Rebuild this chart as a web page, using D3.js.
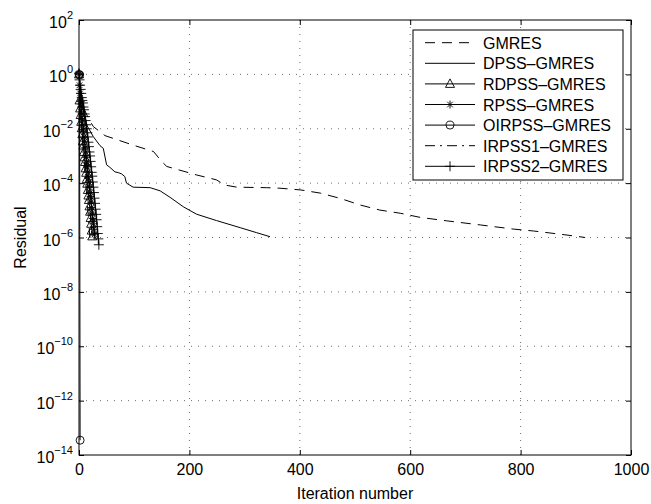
<!DOCTYPE html>
<html><head><meta charset="utf-8">
<script src="https://cdn.jsdelivr.net/npm/d3@7"></script>
<style>
body{margin:0;background:#fff}
text{font-family:"Liberation Sans",Arial,sans-serif;fill:#000}
</style>
</head><body>
<svg id="c" width="651" height="504"></svg>
<script>
// ---- data ----
const xTicks = [0, 200, 400, 600, 800, 1000];
const yTickExps = [2, 0, -2, -4, -6, -8, -10, -12, -14];

const gmresIter = [0, 1, 5, 10, 17, 26, 47, 98, 135, 150, 159, 213, 249, 264, 286, 340, 364, 402, 437, 473, 509, 545, 582, 618, 666, 727, 787, 823, 884, 917];
const gmresRes  = [1, 5.0e-1, 1.26e-1, 5.0e-2, 2.4e-2, 1.2e-2, 5.6e-3, 2.5e-3, 1.45e-3, 6.2e-4, 4.1e-4, 2.0e-4, 1.32e-4, 8.5e-5, 7.1e-5, 6.8e-5, 6.5e-5, 5.6e-5, 4.3e-5, 2.75e-5, 1.58e-5, 1.02e-5, 7.8e-6, 5.5e-6, 4.1e-6, 2.9e-6, 2.04e-6, 1.74e-6, 1.23e-6, 1.0e-6];

const dpssIter = [0, 3, 8, 15, 26, 38, 44, 50, 56, 65, 72, 77, 83, 86, 98, 129, 147, 165, 189, 213, 249, 292, 322, 346];
const dpssRes  = [1, 1.6e-1, 4.0e-2, 1.26e-2, 5.1e-3, 2.4e-3, 1.9e-3, 4.7e-4, 3.8e-4, 2.6e-4, 2.4e-4, 2.2e-4, 1.74e-4, 1.0e-4, 7.1e-5, 6.8e-5, 5.2e-5, 3.0e-5, 1.35e-5, 7.2e-6, 4.2e-6, 2.3e-6, 1.5e-6, 1.07e-6];

// one value per iteration, starting at iteration 0
const rdpssRes = [1, 1.1e-1, 5.6e-2, 3.2e-2, 1.8e-2, 1.05e-2, 6.3e-3, 3.5e-3, 2.4e-3, 1.4e-3, 8.9e-4, 6.0e-4, 3.5e-4, 2.4e-4, 1.4e-4, 9.5e-5, 5.6e-5, 3.5e-5, 2.4e-5, 1.4e-5, 8.9e-6, 5.2e-6, 3.2e-6, 1.8e-6, 1.1e-6];
const rpssRes  = [1, 4.0e-1, 2.0e-1, 1.0e-1, 6.3e-2, 3.5e-2, 2.2e-2, 1.4e-2, 8.9e-3, 5.0e-3, 3.5e-3, 2.0e-3, 1.4e-3, 8.9e-4, 5.6e-4, 4.0e-4, 2.5e-4, 1.6e-4, 1.1e-4, 7.1e-5, 4.5e-5, 3.2e-5, 2.0e-5, 1.26e-5, 7.9e-6, 5.0e-6, 3.2e-6, 2.0e-6, 1.26e-6];
const oirpssRes = [1, 9.5e-1, 3.5e-14];
const irpss1Res = [1, 2.5e-1, 1.0e-1, 4.5e-2, 2.2e-2, 1.1e-2, 5.6e-3, 2.8e-3, 1.6e-3, 7.9e-4, 4.5e-4, 2.2e-4, 1.26e-4, 6.3e-5, 3.5e-5, 1.8e-5, 1.0e-5, 5.6e-6, 3.2e-6, 1.6e-6, 8.9e-7];
const irpss2Res = [1.1, 6.3e-1, 4.0e-1, 2.8e-1, 2.0e-1, 1.4e-1, 1.1e-1, 8.9e-2, 6.3e-2, 5.0e-2, 3.5e-2, 2.8e-2, 2.0e-2, 1.4e-2, 1.0e-2, 7.1e-3, 5.0e-3, 3.2e-3, 2.2e-3, 1.4e-3, 1.0e-3, 6.3e-4, 4.0e-4, 2.5e-4, 1.8e-4, 1.1e-4, 7.1e-5, 4.5e-5, 2.8e-5, 1.8e-5, 1.1e-5, 7.1e-6, 4.5e-6, 2.5e-6, 1.4e-6, 8.9e-7, 5.4e-7];

const seriesNames = ["GMRES", "DPSS\u2013GMRES", "RDPSS\u2013GMRES", "RPSS\u2013GMRES", "OIRPSS\u2013GMRES", "IRPSS1\u2013GMRES", "IRPSS2\u2013GMRES"];

// ---- layout ----
const L = 79, R = 631, T = 20, B = 455;
const svg = d3.select("#c");
const x = d3.scaleLinear().domain([0, 1000]).range([L, R]);
const y = d3.scaleLog().domain([1e-14, 1e2]).range([B, T]);

svg.append("rect").attr("width", 651).attr("height", 504).attr("fill", "#fff");
svg.append("clipPath").attr("id", "clip").append("rect")
  .attr("x", L).attr("y", T).attr("width", R - L).attr("height", B - T);

// grid
const grid = svg.append("g").attr("stroke", "#000").attr("stroke-width", 0.8)
  .attr("stroke-dasharray", "1,6").attr("opacity", 0.7);
xTicks.slice(1, -1).forEach(t => grid.append("line")
  .attr("x1", x(t)).attr("x2", x(t)).attr("y1", T).attr("y2", B));
yTickExps.slice(1, -1).forEach(e => grid.append("line")
  .attr("x1", L).attr("x2", R).attr("y1", y(Math.pow(10, e))).attr("y2", y(Math.pow(10, e))));

// axes with d3 axis generators (ticks inward)
const xAxis = d3.axisBottom(x).tickValues(xTicks).tickSize(-5).tickFormat(d3.format("d"));
const gx = svg.append("g").attr("transform", `translate(0,${B})`).call(xAxis);
gx.select(".domain").remove();
gx.selectAll("text").attr("font-size", 16).attr("dy", "1.05em")
  .style("font-family", '"Liberation Sans",Arial,sans-serif');
gx.selectAll("line").attr("stroke", "#000");
const gxTop = svg.append("g").attr("transform", `translate(0,${T})`)
  .call(d3.axisTop(x).tickValues(xTicks).tickSize(-5).tickFormat(""));
gxTop.select(".domain").remove();

const yVals = yTickExps.map(e => Math.pow(10, e));
const gy = svg.append("g").attr("transform", `translate(${L},0)`)
  .call(d3.axisLeft(y).tickValues(yVals).tickSize(-5).tickFormat(""));
gy.select(".domain").remove();
const gyR = svg.append("g").attr("transform", `translate(${R},0)`)
  .call(d3.axisRight(y).tickValues(yVals).tickSize(-5).tickFormat(""));
gyR.select(".domain").remove();

// y tick labels 10^e
yTickExps.forEach(e => {
  const t = svg.append("text").attr("x", L - 6).attr("y", y(Math.pow(10, e)) + 8)
    .attr("text-anchor", "end").attr("font-size", 16);
  t.append("tspan").text("10");
  t.append("tspan").attr("font-size", 11).attr("dy", -9).text(e < 0 ? "\u2212" + (-e) : e);
});

// box
svg.append("rect").attr("x", L).attr("y", T).attr("width", R - L).attr("height", B - T)
  .attr("fill", "none").attr("stroke", "#000").attr("stroke-width", 1);

// labels
svg.append("text").attr("x", (L + R) / 2).attr("y", 499).attr("text-anchor", "middle")
  .attr("font-size", 16).text("Iteration number");
svg.append("text").attr("transform", `translate(26,${(T + B) / 2}) rotate(-90)`)
  .attr("text-anchor", "middle").attr("font-size", 16).text("Residual");

// markers
function drawMarker(g, type, cx, cy) {
  if (type === "tri") {
    g.append("path").attr("d", `M${cx},${cy - 5}L${cx + 4.5},${cy + 3.5}L${cx - 4.5},${cy + 3.5}Z`)
      .attr("fill", "none").attr("stroke", "#000").attr("stroke-width", 0.9);
  } else if (type === "star") {
    const s = 4;
    g.append("path").attr("d",
      `M${cx - s},${cy}L${cx + s},${cy}M${cx},${cy - s}L${cx},${cy + s}` +
      `M${cx - s * 0.7},${cy - s * 0.7}L${cx + s * 0.7},${cy + s * 0.7}M${cx - s * 0.7},${cy + s * 0.7}L${cx + s * 0.7},${cy - s * 0.7}`)
      .attr("stroke", "#000").attr("stroke-width", 0.9);
  } else if (type === "circ") {
    g.append("circle").attr("cx", cx).attr("cy", cy).attr("r", 4)
      .attr("fill", "none").attr("stroke", "#000").attr("stroke-width", 0.9);
  } else if (type === "plus") {
    const s = 5;
    g.append("path").attr("d", `M${cx - s},${cy}L${cx + s},${cy}M${cx},${cy - s}L${cx},${cy + s}`)
      .attr("stroke", "#000").attr("stroke-width", 0.9);
  }
}

const series = [
  {name: seriesNames[0], it: gmresIter, res: gmresRes, dash: "10,7", marker: null},
  {name: seriesNames[1], it: dpssIter, res: dpssRes, dash: null, marker: null},
  {name: seriesNames[2], it: rdpssRes.map((_, i) => i), res: rdpssRes, dash: null, marker: "tri"},
  {name: seriesNames[3], it: rpssRes.map((_, i) => i), res: rpssRes, dash: null, marker: "star"},
  {name: seriesNames[4], it: oirpssRes.map((_, i) => i), res: oirpssRes, dash: null, marker: "circ"},
  {name: seriesNames[5], it: irpss1Res.map((_, i) => i), res: irpss1Res, dash: "10,5,2,5", marker: null},
  {name: seriesNames[6], it: irpss2Res.map((_, i) => i), res: irpss2Res, dash: null, marker: "plus"}
];

const line = d3.line().x(d => x(d[0])).y(d => y(d[1]));
const plot = svg.append("g").attr("clip-path", "url(#clip)");
series.forEach(s => {
  const pts = s.it.map((v, i) => [v, s.res[i]]);
  plot.append("path").attr("d", line(pts)).attr("fill", "none").attr("stroke", "#000")
    .attr("stroke-width", 1).attr("stroke-dasharray", s.dash);
  if (s.marker) {
    const mg = svg.append("g");
    pts.forEach(p => drawMarker(mg, s.marker, x(p[0]), y(p[1])));
  }
});

// legend
const lg = svg.append("g");
lg.append("rect").attr("x", 413).attr("y", 30).attr("width", 210).attr("height", 150)
  .attr("fill", "#fff").attr("stroke", "#000").attr("stroke-width", 1);
series.forEach((s, i) => {
  const cy = 42.7 + i * 20.6;
  lg.append("line").attr("x1", 425).attr("x2", 475).attr("y1", cy).attr("y2", cy)
    .attr("stroke", "#000").attr("stroke-width", 1).attr("stroke-dasharray", s.dash);
  if (s.marker) drawMarker(lg, s.marker, 450, cy);
  lg.append("text").attr("x", 483).attr("y", cy + 6).attr("font-size", 16).text(s.name);
});
</script>
</body></html>
